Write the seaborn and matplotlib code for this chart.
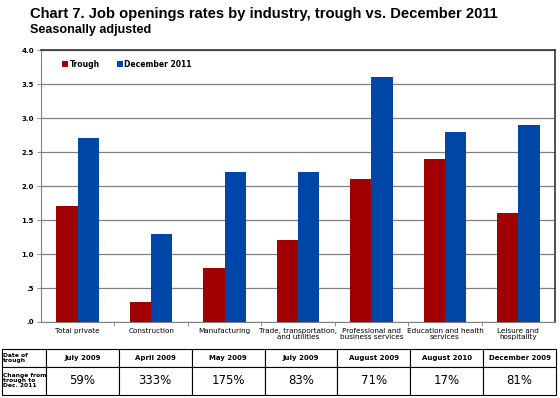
import pandas as pd
import seaborn as sns
import matplotlib.pyplot as plt
from matplotlib.ticker import FixedLocator

industries = ["Total private", "Construction", "Manufacturing",
              "Trade, transportation,\nand utilities", "Professional and\nbusiness services",
              "Education and health\nservices", "Leisure and\nhospitality"]
trough = [1.7, 0.3, 0.8, 1.2, 2.1, 2.4, 1.6]
dec_2011 = [2.7, 1.3, 2.2, 2.2, 3.6, 2.8, 2.9]
series_names = ["Trough", "December 2011"]
trough_dates = ["July 2009", "April 2009", "May 2009", "July 2009",
                "August 2009", "August 2010", "December 2009"]
pct_change = ["59%", "333%", "175%", "83%", "71%", "17%", "81%"]
yticks = [0.0, 0.5, 1.0, 1.5, 2.0, 2.5, 3.0, 3.5, 4.0]
ytick_labels = [".0", ".5", "1.0", "1.5", "2.0", "2.5", "3.0", "3.5", "4.0"]

df = pd.DataFrame({
    "industry": industries * 2,
    "series": [series_names[0]] * len(industries) + [series_names[1]] * len(industries),
    "rate": trough + dec_2011,
})

sns.set_style("white")
plt.rcParams["font.family"] = ["DejaVu Sans"]
plt.rcParams["text.color"] = "black"
plt.rcParams["xtick.color"] = "black"
plt.rcParams["ytick.color"] = "black"

fig = plt.figure(figsize=(5.6, 3.98), dpi=100)
ax = fig.add_axes([0.0732, 0.191, 0.918, 0.683])

sns.barplot(data=df, x="industry", y="rate", hue="series",
            palette=["#A00000", "#0046A6"], width=0.58, saturation=1,
            linewidth=0, edgecolor="none", ax=ax, zorder=3)

ax.set_ylim(0, 4.0)
ax.set_xlim(-0.5, len(industries) - 0.5)
ax.set_yticks(yticks)
ax.set_yticklabels(ytick_labels, fontsize=5, fontweight="bold")
ax.yaxis.grid(True, color="#808080", linewidth=0.9, zorder=0)
ax.set_xlabel("")
ax.set_ylabel("")
ax.tick_params(axis="x", length=0, labelsize=5.2, pad=4)
ax.tick_params(axis="y", length=3, width=0.6, color="#808080", labelcolor="black", pad=2, left=True)
ax.xaxis.set_minor_locator(FixedLocator([i + 0.5 for i in range(len(industries) - 1)]))
ax.tick_params(axis="x", which="minor", length=3, width=0.6, color="#808080", bottom=True)
for lbl in ax.get_xticklabels():
    lbl.set_linespacing(1.0)

for side in ["left", "bottom"]:
    ax.spines[side].set_color("#808080")
    ax.spines[side].set_linewidth(0.8)
for side in ["top", "right"]:
    ax.spines[side].set_visible(True)
    ax.spines[side].set_color("#333333")
    ax.spines[side].set_linewidth(1.2)

ax.legend(loc="upper left", bbox_to_anchor=(0.028, 0.99), ncol=2, frameon=False,
          handlelength=0.8, handleheight=0.8, handletextpad=0.2,
          columnspacing=2.2, prop={"weight": "bold", "size": 5.5})

# Table below the chart
cell_text = [trough_dates, pct_change]
row_labels = ["Date of\ntrough", "Change from\ntrough to\nDec. 2011"]
rows = [[row_labels[i]] + cell_text[i] for i in range(2)]
tbl = ax.table(cellText=rows, cellLoc="center",
               colWidths=[44] + [73] * len(industries),
               bbox=[-0.0759, -0.268, 1.0778, 0.169])
tbl.auto_set_font_size(False)
for (r, c), cell in tbl.get_celld().items():
    cell.set_linewidth(0.8)
    cell.set_edgecolor("black")
    cell.set_height(18 if r == 0 else 28)
    txt = cell.get_text()
    if c == 0:
        cell.set_text_props(ha="left", fontsize=4.3, fontweight="bold", linespacing=1.0)
        cell.PAD = 0.03
    elif r == 0:
        txt.set_fontsize(5)
        txt.set_fontweight("bold")
    else:
        txt.set_fontsize(8.5)

fig.text(0.054, 0.955, "Chart 7. Job openings rates by industry, trough vs. December 2011",
         fontsize=10.6, fontweight="bold", va="baseline", family="Liberation Sans")
fig.text(0.054, 0.916, "Seasonally adjusted", fontsize=9.1, fontweight="bold", va="baseline",
         family="Liberation Sans")

fig.savefig("out.png", dpi=100)
